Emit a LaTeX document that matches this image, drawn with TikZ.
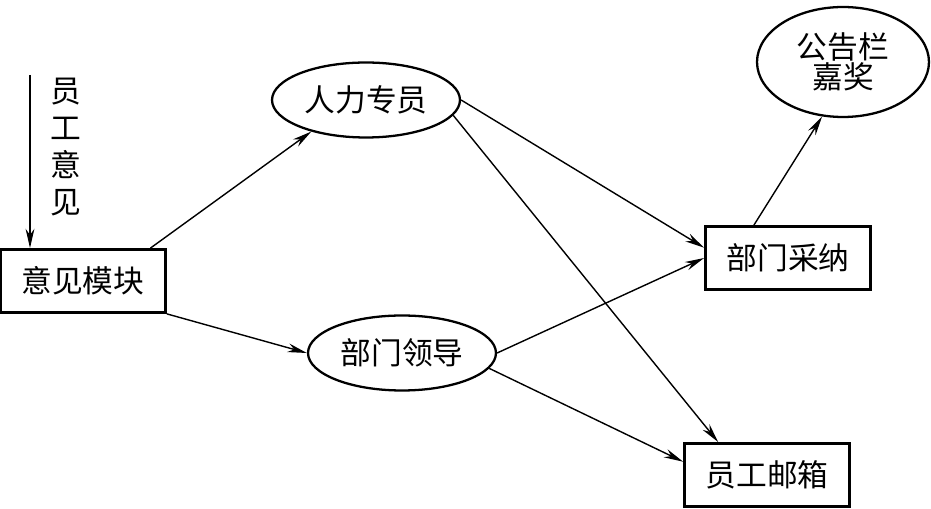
\documentclass[tikz,border=0pt]{standalone}
\usepackage{fontspec}
\newfontfamily\cjk{Noto Sans CJK SC}
\usetikzlibrary{arrows.meta,positioning,shapes.geometric}

\begin{document}
\begin{tikzpicture}[x=0.02cm,y=-0.02cm,
  font=\cjk\fontsize{17.5}{21}\selectfont,
  modbox/.style={draw,line width=1.6pt,minimum width=3.3cm,minimum height=1.26cm,inner sep=0pt},
  roleell/.style={draw,ellipse,line width=1.3pt,minimum width=3.76cm,minimum height=1.5cm,inner sep=0pt},
  flow/.style={line width=0.8pt,-{Stealth[length=11pt,width=5pt]}}]
\useasboundingbox (0,0) rectangle (931,509);

\node[modbox] (mk) at (83,281) {意见模块};
\node[roleell] (hr) at (366,100) {人力专员};
\node[roleell] (dl) at (402,353) {部门领导};
\node[draw,ellipse,line width=1.3pt,minimum width=3.44cm,minimum height=2.2cm,inner sep=0pt,align=center] (gg) at (843,62) {公告栏\\[-4pt]嘉奖};
\node[modbox] (dc) at (788,258) {部门采纳};
\node[modbox] (mb) at (767,475) {员工邮箱};

% input from employees
\coordinate (src) at (30,75);
\node[align=center] (yj) at (66,147) {员\\工\\意\\见};
\draw[flow] (src) -- (src |- mk.north);

\draw[flow] (mk.26) -- (hr.210);
\draw[flow] (mk.south east) -- (dl.west);
\draw[flow] (hr.east) -- (dc.173);
\draw[flow] (hr.-10) -- (mb.146);
\draw[flow] (dl.east) -- (dc.west);
\draw[flow] (dl.-10) -- (mb.171);
\draw[flow] (dc.136) -- (gg.249);
\end{tikzpicture}
\end{document}
